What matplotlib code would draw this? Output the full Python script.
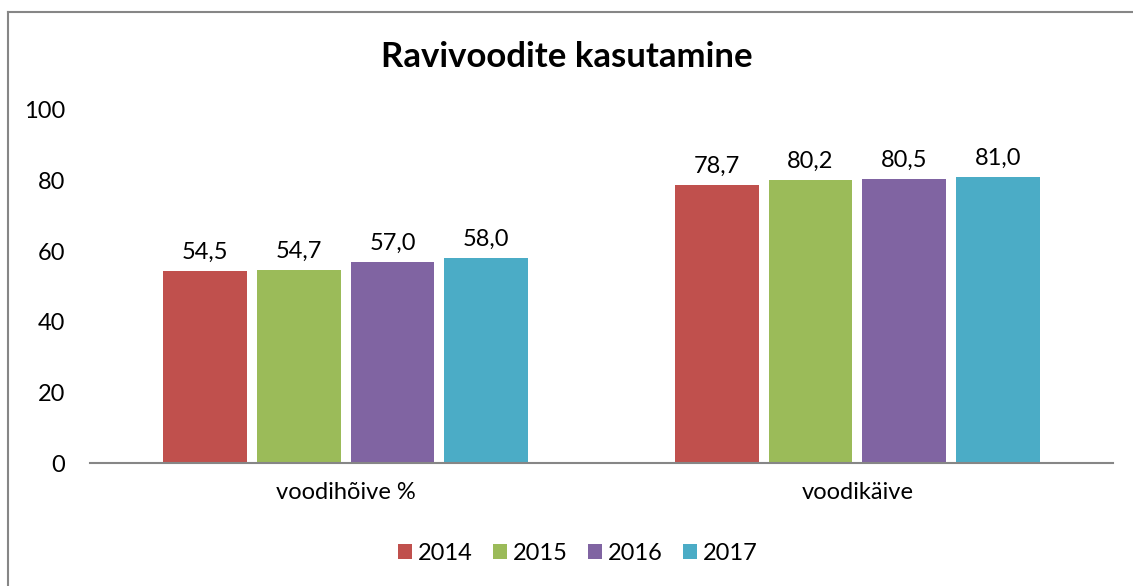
import matplotlib
matplotlib.use("Agg")
import matplotlib.pyplot as plt
from matplotlib.lines import Line2D
import numpy as np

categories = ["voodihõive %", "voodikäive"]
years = ["2014", "2015", "2016", "2017"]
values_2014 = [54.5, 78.7]
values_2015 = [54.7, 80.2]
values_2016 = [57.0, 80.5]
values_2017 = [58.0, 81.0]
colors = ["#C0504D", "#9BBB59", "#8064A2", "#4BACC6"]
y_ticks = [0, 20, 40, 60, 80, 100]

plt.rcParams["font.family"] = ["Lato", "DejaVu Sans"]

fig = plt.figure(figsize=(11.33, 5.86), dpi=100)
# outer chart border (only left and top edges are visible in the reference)
bx, by = 7.5 / 1133, 1 - 12 / 586
fig.lines.append(Line2D([bx, bx], [0, by], transform=fig.transFigure,
                        color="#868686", linewidth=1.5))
fig.lines.append(Line2D([bx, 1], [by, by], transform=fig.transFigure,
                        color="#868686", linewidth=1.5))

ax = fig.add_axes([90 / 1133, 1 - 463 / 586, 1023 / 1133, 353 / 586])

series = [values_2014, values_2015, values_2016, values_2017]
x = np.arange(len(categories))
width = 0.164
step = 0.183
for i, (vals, col, yr) in enumerate(zip(series, colors, years)):
    pos = x + (i - 1.5) * step
    bars = ax.bar(pos, vals, width, color=col, label=yr)
    for b, v in zip(bars, vals):
        ax.text(b.get_x() + b.get_width() / 2, v + 2.3, f"{v:.1f}".replace(".", ","),
                ha="center", va="bottom", fontsize=17)

ax.set_xlim(-0.5, 1.5)
ax.set_ylim(0, 100)
ax.set_yticks(y_ticks)
ax.set_yticklabels([str(t) for t in y_ticks], fontsize=17)
ax.set_xticks(x)
ax.set_xticklabels(categories, fontsize=17)
ax.tick_params(axis="x", length=0, pad=14)
ax.tick_params(axis="y", length=0, pad=18)
for s in ["top", "right", "left"]:
    ax.spines[s].set_visible(False)
ax.spines["bottom"].set_color("#868686")
ax.spines["bottom"].set_linewidth(1.5)

fig.text(0.5, 1 - 57 / 586, "Ravivoodite kasutamine", ha="center", va="center",
         fontsize=25, fontweight="bold")

fig.legend(loc="center", bbox_to_anchor=(0.51, 1 - 553 / 586), ncol=4, frameon=False,
           fontsize=17, handlelength=0.6, handleheight=0.6, handletextpad=0.25,
           columnspacing=0.85)

fig.savefig("out.png", dpi=100)
